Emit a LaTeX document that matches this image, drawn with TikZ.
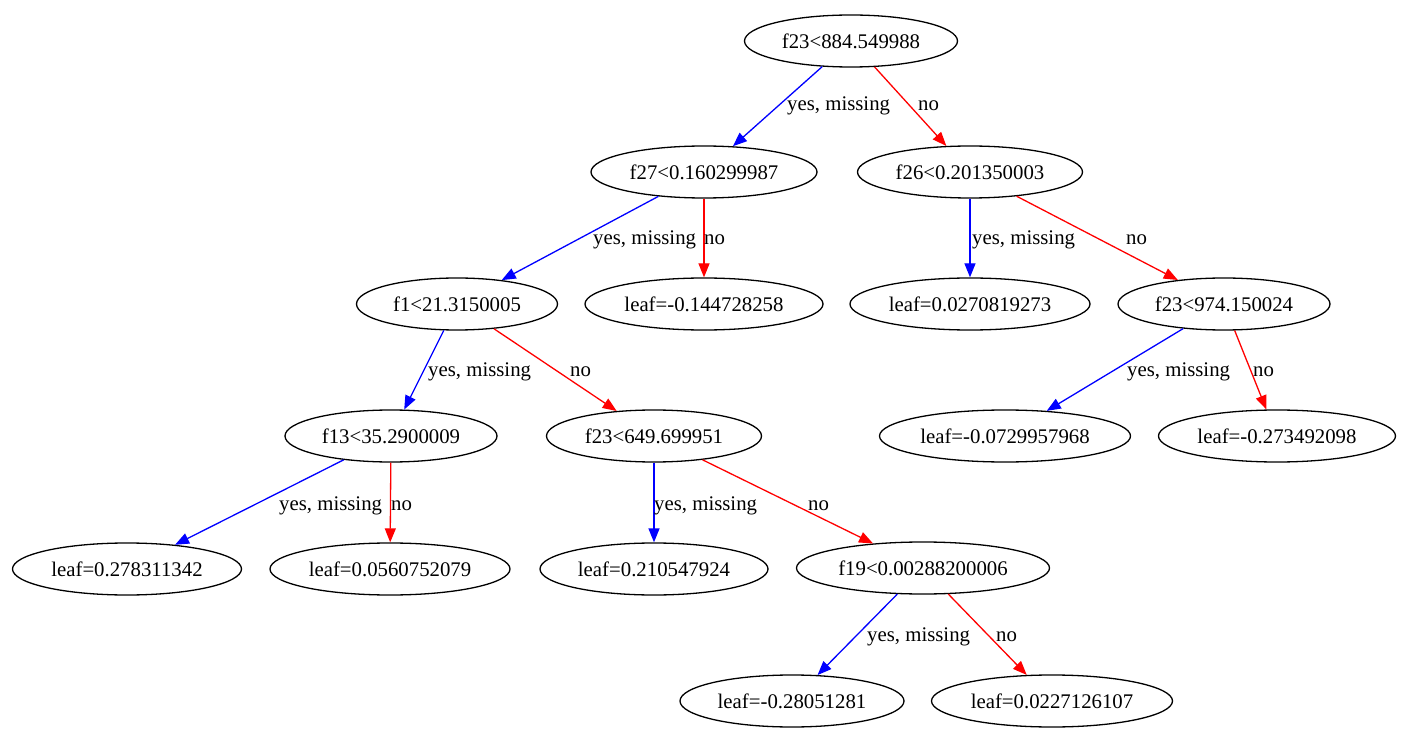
\documentclass[tikz,border=0pt]{standalone}
\usepackage{fontspec}
\setmainfont{Liberation Serif}
\usetikzlibrary{shapes.geometric,arrows.meta}
\begin{document}
\begin{tikzpicture}[x=1pt,y=-1pt,
  tnode/.style={ellipse,draw=black,line width=1.3pt,inner sep=0pt,minimum height=52pt,font=\fontsize{20.8}{24}\selectfont},
  elabel/.style={anchor=base west,inner sep=0pt,font=\fontsize{20.8}{24}\selectfont},
  yesedge/.style={draw={rgb,255:red,0;green,0;blue,255},line width=1.3pt,-{Triangle[length=14pt,width=11pt]}},
  noedge/.style={draw={rgb,255:red,255;green,0;blue,0},line width=1.3pt,-{Triangle[length=14pt,width=11pt]}}]
\useasboundingbox[fill=white] (0,0) rectangle (1409,743);
% nodes
\node[tnode,minimum width=213pt] (root) at (851,41) {f23<884.549988};
\node[tnode,minimum width=226pt] (f27) at (704,172) {f27<0.160299987};
\node[tnode,minimum width=225pt] (f26) at (970,172) {f26<0.201350003};
\node[tnode,minimum width=201pt] (f1) at (457,304) {f1<21.3150005};
\node[tnode,minimum width=238pt] (la) at (704,304) {leaf=-0.144728258};
\node[tnode,minimum width=240pt] (lb) at (970,304) {leaf=0.0270819273};
\node[tnode,minimum width=212pt] (f23b) at (1224,304) {f23<974.150024};
\node[tnode,minimum width=212pt] (f13) at (391,436) {f13<35.2900009};
\node[tnode,minimum width=215pt] (f23c) at (654,436) {f23<649.699951};
\node[tnode,minimum width=251pt] (lc) at (1005,436) {leaf=-0.0729957968};
\node[tnode,minimum width=237pt] (ld) at (1277,436) {leaf=-0.273492098};
\node[tnode,minimum width=229pt] (le) at (127,569) {leaf=0.278311342};
\node[tnode,minimum width=240pt] (lf) at (390,569) {leaf=0.0560752079};
\node[tnode,minimum width=228pt] (lg) at (654,569) {leaf=0.210547924};
\node[tnode,minimum width=253pt] (f19) at (923,568) {f19<0.00288200006};
\node[tnode,minimum width=224pt] (lh) at (792,701) {leaf=-0.28051281};
\node[tnode,minimum width=241pt] (li) at (1052,701) {leaf=0.0227126107};
% edges
\draw[yesedge] (root) -- (f27);
\draw[noedge] (root) -- (f26);
\draw[yesedge] (f27) -- (f1);
\draw[noedge] (f27) -- (la);
\draw[yesedge] (f26) -- (lb);
\draw[noedge] (f26) -- (f23b);
\draw[yesedge] (f1) -- (f13);
\draw[noedge] (f1) -- (f23c);
\draw[yesedge] (f23b) -- (lc);
\draw[noedge] (f23b) -- (ld);
\draw[yesedge] (f13) -- (le);
\draw[noedge] (f13) -- (lf);
\draw[yesedge] (f23c) -- (lg);
\draw[noedge] (f23c) -- (f19);
\draw[yesedge] (f19) -- (lh);
\draw[noedge] (f19) -- (li);
% edge labels
\node[elabel] (y1) at (787,111) {yes, missing};
\node[elabel] (n1) at (918,111) {no};
\node[elabel] (y2) at (593,245) {yes, missing};
\node[elabel] (n2) at (704,245) {no};
\node[elabel] (y3) at (972,245) {yes, missing};
\node[elabel] (n3) at (1126,245) {no};
\node[elabel] (y4) at (428,377) {yes, missing};
\node[elabel] (n4) at (570,377) {no};
\node[elabel] (y5) at (1127,377) {yes, missing};
\node[elabel] (n5) at (1253,377) {no};
\node[elabel] (y6) at (279,510) {yes, missing};
\node[elabel] (n6) at (391,510) {no};
\node[elabel] (y7) at (654,510) {yes, missing};
\node[elabel] (n7) at (808,510) {no};
\node[elabel] (y8) at (867,641) {yes, missing};
\node[elabel] (n8) at (996,641) {no};
\end{tikzpicture}
\end{document}
